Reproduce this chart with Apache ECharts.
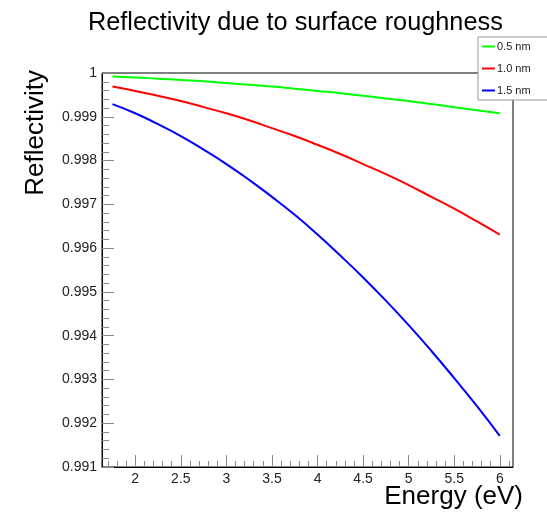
<!DOCTYPE html>
<html>
<head>
<meta charset="utf-8">
<script src="https://cdn.jsdelivr.net/npm/echarts@6/dist/echarts.min.js"></script>
<style>
  html, body { margin: 0; padding: 0; background: #fff; }
  #chart { width: 547px; height: 514px; }
</style>
</head>
<body>
<div id="chart"></div>
<script>
// photon energy (eV)
var energy = [1.75, 2.0, 2.25, 2.5, 2.75, 3.0, 3.25, 3.5, 3.75, 4.0, 4.25, 4.5, 4.75, 5.0, 5.25, 5.5, 5.75, 6.0];
// reflectivity, per roughness
var refl05 = [0.99992, 0.99990, 0.99987, 0.99984, 0.99981, 0.99977, 0.99973, 0.99969, 0.99964, 0.99959, 0.99954, 0.99948, 0.99942, 0.99936, 0.99929, 0.99922, 0.99915, 0.99908];
var refl10 = [0.99969, 0.99959, 0.99948, 0.99936, 0.99922, 0.99908, 0.99892, 0.99874, 0.99856, 0.99836, 0.99815, 0.99792, 0.99769, 0.99744, 0.99717, 0.99690, 0.99661, 0.99631];
var refl15 = [0.99929, 0.99908, 0.99883, 0.99856, 0.99825, 0.99792, 0.99756, 0.99717, 0.99676, 0.99631, 0.99583, 0.99533, 0.99480, 0.99424, 0.99365, 0.99303, 0.99239, 0.99171];
var seriesNames = ['0.5 nm', '1.0 nm', '1.5 nm'];
var seriesColors = ['#00ff00', '#ff0000', '#0000ff'];
var xMajor = [2, 2.5, 3, 3.5, 4, 4.5, 5, 5.5, 6];
var xMinor = [1.7, 1.8, 1.9, 2.1, 2.2, 2.3, 2.4, 2.6, 2.7, 2.8, 2.9, 3.1, 3.2, 3.3, 3.4,
  3.6, 3.7, 3.8, 3.9, 4.1, 4.2, 4.3, 4.4, 4.6, 4.7, 4.8, 4.9, 5.1, 5.2, 5.3, 5.4,
  5.6, 5.7, 5.8, 5.9, 6.1];

var font = 'Liberation Sans, Arial, sans-serif';
var chart = echarts.init(document.getElementById('chart'));

function pairs(ys) {
  return energy.map(function (x, i) { return [x, ys[i]]; });
}

var allY = [refl05, refl10, refl15];
var series = allY.map(function (ys, i) {
  return {
    name: seriesNames[i],
    type: 'line',
    data: pairs(ys),
    smooth: true,
    showSymbol: false,
    symbol: 'none',
    lineStyle: { color: seriesColors[i], width: 2 },
    itemStyle: { color: seriesColors[i] },
    animation: false
  };
});

chart.setOption({
  animation: false,
  title: {
    text: 'Reflectivity due to surface roughness',
    left: 83,
    top: 6,
    textStyle: { fontFamily: font, fontSize: 25.3, fontWeight: 'normal', color: '#000' }
  },
  legend: {
    orient: 'vertical',
    left: 478,
    top: 37,
    data: seriesNames,
    icon: 'rect',
    itemWidth: 13,
    itemHeight: 2,
    itemGap: 11,
    backgroundColor: '#fff',
    borderColor: '#999',
    borderWidth: 1,
    borderRadius: 0,
    padding: [4, 40, 4, 4],
    textStyle: { fontFamily: font, fontSize: 11, color: '#222', padding: [0, 0, 0, -3] }
  },
  grid: {
    left: 102, top: 73, width: 411, height: 394,
    show: true, borderColor: '#000', borderWidth: 1, backgroundColor: '#fff'
  },
  xAxis: [{
    type: 'value',
    min: 1.635,
    max: 6.145,
    axisLine: { lineStyle: { color: '#000', width: 1 } },
    axisTick: { inside: true, length: 12, customValues: xMajor, lineStyle: { color: '#888' } },
    axisLabel: {
      customValues: xMajor, margin: 5,
      fontFamily: font, fontSize: 14, color: '#222'
    },
    splitLine: { show: false }
  }, {
    type: 'value',
    min: 1.635,
    max: 6.145,
    position: 'bottom',
    axisLine: { show: false },
    axisTick: { inside: true, length: 6, customValues: xMinor, lineStyle: { color: '#888' } },
    axisLabel: { show: false },
    splitLine: { show: false }
  }],
  yAxis: {
    type: 'value',
    min: 0.991,
    max: 1,
    interval: 0.001,
    axisLine: { show: true, lineStyle: { color: '#000', width: 1 } },
    axisTick: { show: true, inside: true, length: 12, lineStyle: { color: '#888' } },
    minorTick: { show: true, splitNumber: 5, length: 7, lineStyle: { color: '#888' } },
    axisLabel: {
      margin: 5,
      fontFamily: font, fontSize: 14, color: '#222',
      formatter: function (v) { return Math.abs(v - 1) < 1e-9 ? '1' : v.toFixed(3); }
    },
    splitLine: { show: false }
  },
  graphic: [{
    type: 'text',
    x: 523, y: 497,
    style: {
      text: 'Energy (eV)', fontFamily: font, fontSize: 26, fill: '#000',
      align: 'right', verticalAlign: 'middle'
    }
  }, {
    type: 'text',
    x: 36, y: 70,
    rotation: Math.PI / 2,
    style: {
      text: 'Reflectivity', fontFamily: font, fontSize: 26, fill: '#000',
      align: 'right', verticalAlign: 'middle'
    }
  }],
  series: series
});
</script>
</body>
</html>
